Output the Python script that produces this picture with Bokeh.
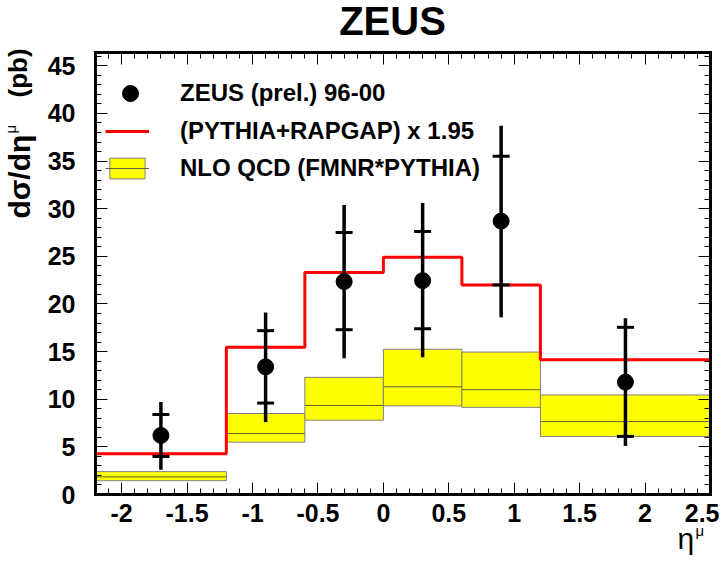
import math
from bokeh.plotting import figure
from bokeh.models import (Range1d, LinearAxis, SingleIntervalTicker, NumeralTickFormatter,
                          CustomJSTickFormatter, Label, Legend, LegendItem)
from bokeh.embed import file_html
from bokeh.resources import INLINE

# ---- data ----
bin_edges = [-2.2, -1.2, -0.6, 0.0, 0.6, 1.2, 2.5]
mc_scaled = [4.27, 15.45, 23.3, 24.9, 22.0, 14.15]      # (PYTHIA+RAPGAP) x 1.95
nlo_low = [1.45, 5.5, 7.8, 9.3, 9.15, 6.1]
nlo_central = [1.85, 6.4, 9.35, 11.3, 11.0, 7.65]
nlo_high = [2.4, 8.5, 12.3, 15.25, 14.95, 10.45]

eta = [-1.7, -0.9, -0.3, 0.3, 0.9, 1.85]
xsec = [6.2, 13.4, 22.35, 22.45, 28.7, 11.8]
stat_low = [4.0, 9.6, 17.3, 17.4, 22.0, 6.1]
stat_high = [8.4, 17.2, 27.5, 27.6, 35.5, 17.55]
tot_low = [2.6, 7.6, 14.3, 14.4, 18.6, 5.1]
tot_high = [9.7, 19.1, 30.4, 30.6, 38.7, 18.5]

x_lim = (-2.2, 2.5)
y_lim = (0.0, 46.4)

# ---- layout (pixels) ----
W, H = 719, 558
FL, FR, FT, FB = 95, 710, 52, 494          # plot-box edges on the canvas
FONT = "Liberation Sans"

sx = (FR - FL) / (x_lim[1] - x_lim[0])
sy = (FB - FT) / (y_lim[1] - y_lim[0])
xr = Range1d(x_lim[0] - FL / sx, x_lim[1] + (W - FR) / sx)
yr = Range1d(y_lim[0] - (H - FB) / sy, y_lim[1] + FT / sy)

p = figure(width=W, height=H, x_range=xr, y_range=yr,
           output_backend="svg", toolbar_location=None,
           min_border=0, min_border_left=0, min_border_right=0,
           min_border_top=0, min_border_bottom=0)
p.title.visible = False
p.xgrid.visible = False
p.ygrid.visible = False
p.outline_line_color = None
p.background_fill_color = "white"
p.border_fill_color = "white"

# NLO band
p.quad(left=bin_edges[:-1], right=bin_edges[1:], bottom=nlo_low, top=nlo_high,
       fill_color="#ffff00", line_color="#808080", line_width=1)
nlo_mid = p.segment(x0=bin_edges[:-1], x1=bin_edges[1:], y0=nlo_central, y1=nlo_central,
                    line_color="#606030", line_width=1)
band_r = p.quad(left=bin_edges[:-1], right=bin_edges[1:], bottom=nlo_low, top=nlo_high,
                fill_color="#ffff00", line_color="#808080", line_width=1, visible=False)

# MC step
mc = p.step(x=bin_edges, y=mc_scaled + [mc_scaled[-1]], mode="after",
            line_color="#ff0000", line_width=3)

# data points
p.segment(x0=eta, x1=eta, y0=tot_low, y1=tot_high, line_color="black", line_width=3.5)
p.scatter(x=eta + eta, y=stat_low + stat_high, marker="dash", size=17,
          line_color="black", line_width=3)
pts = p.scatter(x=eta, y=xsec, size=16, color="black")

# axes (drawn on the plot-box edges)
def style_axis(ax, labels=True):
    ax.axis_line_width = 3
    ax.axis_line_color = "black"
    ax.axis_line_cap = "square"
    ax.major_tick_in = 12
    ax.major_tick_out = 0
    ax.minor_tick_in = 6
    ax.minor_tick_out = 0
    ax.major_tick_line_width = 1
    ax.minor_tick_line_width = 1
    ax.major_label_text_font = FONT
    ax.major_label_text_font_style = "bold"
    ax.major_label_text_font_size = "25px"
    ax.major_label_text_color = "black"
    if not labels:
        ax.formatter = CustomJSTickFormatter(code="return ''")

xb = p.xaxis[0]
xb.ticker = SingleIntervalTicker(interval=0.5, num_minor_ticks=5)
xb.formatter = NumeralTickFormatter(format="0.[0]")
xb.fixed_location = y_lim[0]
xb.bounds = x_lim
style_axis(xb)
xb.major_label_standoff = 9

yl = p.yaxis[0]
yl.ticker = SingleIntervalTicker(interval=5, num_minor_ticks=5)
yl.formatter = NumeralTickFormatter(format="0")
yl.fixed_location = x_lim[0]
yl.bounds = y_lim
style_axis(yl)
yl.major_label_standoff = 20

xt = LinearAxis(ticker=SingleIntervalTicker(interval=0.5, num_minor_ticks=5),
                fixed_location=y_lim[1], bounds=x_lim)
style_axis(xt, labels=False)
p.add_layout(xt, "above")
yrt = LinearAxis(ticker=SingleIntervalTicker(interval=5, num_minor_ticks=5),
                 fixed_location=x_lim[1], bounds=y_lim)
style_axis(yrt, labels=False)
p.add_layout(yrt, "right")

# legends
def style_legend(leg):
    leg.label_text_font = FONT
    leg.label_text_font_style = "bold"
    leg.label_text_font_size = "24px"
    leg.label_text_color = "black"
    leg.border_line_color = None
    leg.background_fill_alpha = 0
    leg.padding = 0
    leg.margin = 0
    leg.spacing = 0

leg1 = Legend(items=[LegendItem(label="ZEUS (prel.) 96-00", renderers=[pts])],
              location=(110, H - 113), glyph_width=40, glyph_height=40, label_height=40,
              label_standoff=30)
style_legend(leg1)
p.add_layout(leg1, "center")

leg2 = Legend(items=[LegendItem(label="(PYTHIA+RAPGAP) x 1.95", renderers=[mc]),
                     LegendItem(label="NLO QCD (FMNR*PYTHIA)", renderers=[band_r, nlo_mid])],
              location=(105, H - 186.5), glyph_width=44, glyph_height=26, label_height=37,
              label_standoff=31)
style_legend(leg2)
p.add_layout(leg2, "center")

def text(x, y, s, size, bold=True, angle=0.0, align="left", baseline="alphabetic"):
    p.add_layout(Label(x=x, y=H - y, x_units="screen", y_units="screen", text=s,
                       angle=angle, text_font=FONT,
                       text_font_style="bold" if bold else "normal",
                       text_font_size=size, text_align=align, text_baseline=baseline,
                       text_color="black"))

# title
text(392, 20, "ZEUS", "40px", align="center")

# y axis label (rotated, reading upwards)
rot = math.pi / 2
text(19, 218, "dσ/dη", "30px", angle=rot)
text(10, 133, "μ", "15px", bold=False, angle=rot)
text(17, 97, "(pb)", "26px", angle=rot)

# x axis label
text(677, 538, "η", "30px", bold=False)
text(695, 530, "μ", "15px", bold=False)

open("out.html", "w").write(file_html(p, INLINE))
